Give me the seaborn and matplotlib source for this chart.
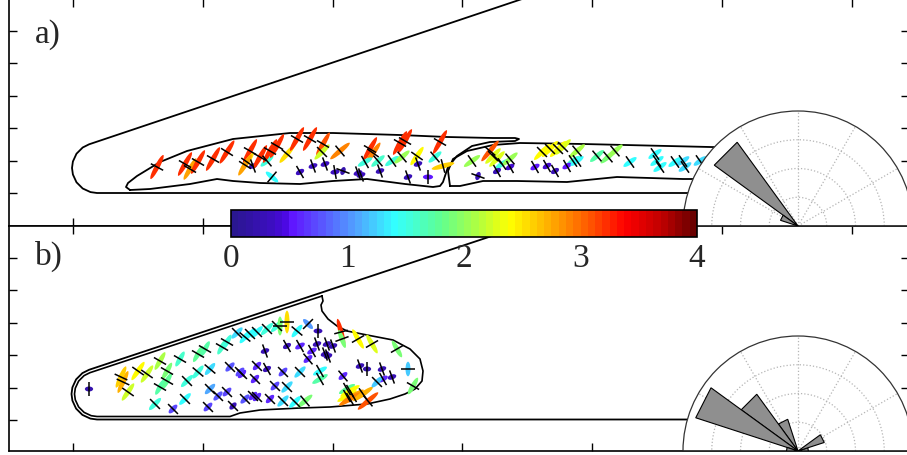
import numpy as np
import pandas as pd
import matplotlib
matplotlib.use("Agg")
import matplotlib.pyplot as plt
import seaborn as sns
from matplotlib.collections import EllipseCollection, LineCollection
from matplotlib.colors import LinearSegmentedColormap, Normalize
from matplotlib.cm import ScalarMappable
from matplotlib.ticker import FixedLocator

# ---------------- geometry (length units: 1 unit = 1/32.4 of a y-tick spacing) ----------------
wall_a_x = [522, 80.1, 73.7, 67.5, 63.9, 63, 63.9, 67.5, 73.7, 81.5, 88, 900]
wall_a_y = [230, 81.7, 78.5, 72.3, 64.5, 58, 51.5, 43.7, 37.5, 33.9, 33, 33]

body1_x = [121, 117, 119, 128, 151, 178, 224, 281, 324, 391, 438, 484, 506, 510, 506, 481, 463,
           448, 439, 434, 431, 424, 396, 358, 324, 291, 251, 224, 208, 181, 141, 121]
body1_y = [36, 39, 43, 50, 64, 75, 87, 93, 93, 91, 89, 88, 88, 87, 85, 84, 80,
           70, 59, 44, 40, 39, 42, 47, 45, 42, 43, 45, 47, 42, 37, 36]

body2_x = [441, 439, 444, 458, 484, 511, 574, 701, 760, 760, 701, 674, 608, 558, 508, 474, 451, 441]
body2_y = [40, 55, 67, 75, 81, 83, 82, 79, 78, 47, 47, 47, 49, 44, 45, 45, 40, 40]

wall_b_x = [522, 80, 73.4, 67.1, 63.4, 62.5, 63.4, 67.1, 73.4, 81.4, 88, 900]
wall_b_y = [228, 81.2, 77.9, 71.6, 63.6, 57, 50.4, 42.4, 36.1, 32.4, 31.5, 31.5]

body_b_x = [313, 314, 312, 313, 319, 328, 338, 358, 384, 401, 411, 414, 413, 406, 396, 381, 358,
            321, 291, 251, 231, 221, 88, 82.2, 75.1, 69.6, 66.3, 65.5, 66.3, 69.6, 75.1, 80.9, 313]
body_b_y = [155, 150, 146, 140, 132, 125, 120, 116, 111, 102, 92, 80, 70, 62, 57, 52, 47,
            44, 43, 41, 38, 34.5, 34.5, 35.3, 38.6, 44.1, 51.2, 57, 62.8, 69.9, 75.4, 78.3, 155]

# ---------------- panel a markers ----------------
a_x = [148, 176, 181, 189, 204, 218, 241, 238, 236, 244,
       251, 258, 261, 268, 263, 278, 288, 301, 304, 291,
       314, 313, 316, 331, 326, 334, 349, 352, 361, 364,
       356, 369, 371, 391, 396, 383, 393, 399, 408, 409,
       419, 426, 431, 434, 463, 481, 484, 488, 493, 501,
       469, 488, 501, 533, 541, 549, 554, 568, 564, 526,
       538, 546, 558, 568, 588, 599, 606, 621, 646, 648,
       651, 666, 674, 676, 691]
a_y = [59, 62, 57, 64, 67, 74, 75, 64, 61, 60,
       69, 65, 75, 80, 49, 72, 87, 87, 60, 54,
       82, 74, 62, 75, 54, 55, 53, 51, 77, 73,
       64, 65, 55, 83, 85, 65, 69, 49, 70, 62,
       49, 69, 84, 60, 65, 75, 70, 67, 62, 67,
       50, 55, 59, 74, 77, 77, 79, 75, 65, 59,
       60, 55, 60, 65, 70, 69, 75, 64, 72, 65,
       59, 64, 65, 59, 65]
a_val = [3.2, 3.2, 2.8, 3.2, 3.2, 3.2, 3.2, 2.5, 2.8, 0.3,
         3.2, 1.5, 3.2, 3.2, 1.4, 2.5, 3.2, 3.2, 0.35, 0.35,
         3.1, 2.2, 0.35, 2.9, 0.35, 0.2, 0.35, 0.35, 3.2, 2.9,
         1.5, 1.6, 0.3, 3.2, 3.2, 1.5, 2.0, 0.3, 2.4, 0.3,
         0.5, 1.5, 3.2, 2.6, 2.0, 3.1, 2.3, 2.3, 1.5, 2.0,
         0.25, 0.3, 0.4, 2.4, 2.4, 2.4, 2.3, 2.1, 1.5, 0.5,
         0.4, 0.3, 0.5, 1.4, 1.7, 1.9, 2.0, 1.4, 1.4, 1.4,
         1.4, 1.4, 1.3, 1.3, 1.3]
a_ang = [62, 60, 60, 60, 60, 58, 60, 55, 58, 20,
         60, 40, 60, 60, -40, 50, 60, 60, 20, 30,
         60, 45, 20, 40, 10, 70, 20, 20, 60, 55,
         30, 40, 20, 60, 60, 35, 40, 20, 55, 20,
         0, 40, 60, 15, 35, 50, 45, 45, 35, 40,
         70, 30, 30, 45, 45, 45, 45, 40, 35, 30,
         30, 30, 30, 35, 40, 40, 40, 35, 35, 35,
         35, 35, 35, 35, 35]

# ---------------- panel b markers ----------------
b_x = [80, 114, 112, 119, 129, 138, 151, 158, 151, 158,
       146, 164, 178, 176, 189, 196, 189, 201, 199, 213,
       218, 236, 209, 221, 233, 224, 236, 201, 228, 241,
       248, 258, 268, 278, 271, 288, 299, 309, 256, 278,
       291, 308, 318, 324, 332, 333, 349, 363, 388, 303,
       316, 299, 319, 351, 358, 373, 383, 374, 399, 404,
       248, 258, 246, 274, 291, 311, 311, 334, 266, 278,
       248, 261, 274, 286, 296, 338, 338, 341, 344, 341,
       354, 359, 368, 231, 244, 218, 171]
b_y = [62, 69, 74, 59, 80, 77, 90, 80, 64, 70,
       47, 42, 70, 52, 97, 102, 79, 62, 44, 104,
       109, 114, 55, 84, 77, 45, 52, 82, 118, 117,
       119, 122, 125, 129, 125, 120, 127, 120, 100, 105,
       105, 107, 107, 105, 119, 112, 112, 107, 102, 100,
       97, 92, 95, 85, 82, 82, 74, 72, 82, 65,
       85, 82, 72, 79, 79, 80, 72, 75, 65, 64,
       54, 52, 50, 49, 50, 62, 55, 60, 55, 52,
       57, 50, 69, 79, 55, 59, 92]
b_val = [0.2, 2.7, 2.6, 2.2, 2.4, 2.2, 2.1, 1.9, 1.7, 1.8,
         1.5, 0.7, 1.5, 1.4, 1.8, 1.7, 1.5, 1.1, 0.7, 1.6,
         1.5, 1.4, 0.8, 0.8, 0.6, 0.3, 0.8, 1.3, 1.3, 1.4,
         1.4, 1.5, 1.5, 2.5, 1.9, 1.4, 1.0, 0.3, 0.3, 0.3,
         0.6, 0.3, 0.3, 0.3, 3.2, 1.9, 2.4, 2.3, 1.9, 0.6,
         0.3, 0.6, 0.3, 0.3, 0.2, 0.3, 0.3, 0.6, 1.2, 1.9,
         0.6, 0.3, 0.6, 0.7, 1.3, 1.4, 1.7, 0.6, 0.7, 1.3,
         0.6, 0.6, 1.3, 1.4, 1.9, 1.8, 2.4, 2.4, 2.8, 2.9,
         2.7, 3.1, 1.2, 0.7, 0.6, 0.7, 1.6]
b_ang = [0, 65, 65, 55, 55, 55, 60, 60, 60, 60,
         45, 45, 45, 45, 60, 60, 50, 45, 45, 60,
         60, 50, 45, 45, 45, 45, 45, 50, 45, 45,
         45, 45, 45, 90, 90, 50, -45, 0, 20, 30,
         30, 20, 20, 20, -75, -70, -60, -60, -60, 30,
         20, 40, 20, 20, 0, 20, 20, 30, 90, 60,
         45, 30, 45, 45, 45, 30, 30, 40, 45, 45,
         45, 45, 45, 45, 40, 30, 30, 30, 30, 30,
         35, 40, 45, 45, 45, 45, 60]

# ---------------- rose diagrams (normalised counts per 18 deg bin) ----------------
rose_edges = [0, 18, 36, 54, 72, 90, 108, 126, 144, 162, 180]
rose_a = [0, 0, 0, 0, 0, 0, 0, 0.90, 0.16, 0]
rose_b = [0.09, 0.24, 0, 0, 0, 0, 0.29, 0.61, 0.935, 0.10]

cbar_ticks = [0, 1, 2, 3, 4]

# ---------------- styling ----------------
sns.set_theme(style="white")
plt.rcParams["font.family"] = ["Liberation Serif", "DejaVu Serif"]

cmap = LinearSegmentedColormap.from_list("ratio", [
    (0.00, "#2a1790"), (0.08, "#3c0ec0"), (0.11, "#4a08e0"), (0.12, "#6010ff"),
    (0.20, "#5860ff"), (0.27, "#50a8ff"), (0.35, "#33ffff"), (0.45, "#60ff90"),
    (0.53, "#b0ff40"), (0.60, "#ffff00"), (0.70, "#ffa000"), (0.78, "#ff5000"),
    (0.85, "#ff0000"), (0.93, "#c00000"), (1.00, "#6a0000")], N=64)
norm = Normalize(0, 4)

W, H = 907, 456
fig = plt.figure(figsize=(W / 100, H / 100), dpi=100)


def rect(l, t, w, h):
    return [l / W, 1 - (t + h) / H, w / W, h / H]


ax_a = fig.add_axes(rect(9, 0, 900, 227))
ax_b = fig.add_axes(rect(9, 227, 900, 225))


def setup(ax, ytop, y0):
    ax.set_xlim(0, 900)
    ax.set_ylim(0, ytop)
    ax.xaxis.set_major_locator(FixedLocator(np.arange(64.3, 900, 129.7)))
    ax.yaxis.set_major_locator(FixedLocator(np.arange(y0, ytop - 10, 32.4)))
    ax.tick_params(direction="in", length=6, width=1, color="black",
                   bottom=True, top=True, left=True, right=True,
                   labelbottom=False, labelleft=False)
    ax.set_xlabel("")
    ax.set_ylabel("")
    for s in ax.spines.values():
        s.set_color("black")
        s.set_linewidth(1.2)


def outline(ax, xs, ys, lw=1.3):
    d = pd.DataFrame({"x": xs, "y": ys})
    sns.lineplot(data=d, x="x", y="y", sort=False, estimator=None,
                 color="black", lw=lw, ax=ax, zorder=2)


def markers(ax, xs, ys, vals, angs):
    xs = np.asarray(xs, float)
    ys = np.asarray(ys, float)
    vals = np.asarray(vals, float)
    angs = np.asarray(angs, float)
    lengths = 7 + 6.3 * vals
    ec = EllipseCollection(lengths, np.full_like(lengths, 5.0), angs, units="xy",
                           offsets=np.column_stack([xs, ys]),
                           offset_transform=ax.transData,
                           facecolors=cmap(norm(vals)), edgecolors="none", zorder=3)
    ax.add_collection(ec)
    p = np.deg2rad(angs + 90)
    half = 7.0
    segs = [[(x - half * np.cos(t), y - half * np.sin(t)),
             (x + half * np.cos(t), y + half * np.sin(t))] for x, y, t in zip(xs, ys, p)]
    ax.add_collection(LineCollection(segs, colors="black", linewidths=1.1, zorder=4))


outline(ax_a, wall_a_x, wall_a_y)
outline(ax_a, body1_x, body1_y)
outline(ax_a, body2_x, body2_y)
markers(ax_a, a_x, a_y, a_val, a_ang)
setup(ax_a, 227, 33)
ax_a.text(26, 192, "a)", fontsize=24, ha="left", va="center")

outline(ax_b, wall_b_x, wall_b_y)
outline(ax_b, body_b_x, body_b_y, lw=1.2)
markers(ax_b, b_x, b_y, b_val, b_ang)
setup(ax_b, 225, 31)
ax_b.text(26, 196, "b)", fontsize=24, ha="left", va="center")


def rose(top, radii):
    pax = fig.add_axes(rect(683, top, 230, 230), projection="polar")
    pax.set_thetamin(0)
    pax.set_thetamax(180)
    pax.set_ylim(0, 1)
    pax.set_rticks([0.25, 0.5, 0.75])
    pax.set_yticklabels([])
    pax.set_thetagrids([30, 60, 90, 120, 150], labels=[""] * 5)
    pax.grid(True, color="#b5b5b5", linestyle=":", linewidth=0.9)
    pax.tick_params(length=0)
    pax.set_facecolor("white")
    pax.spines["polar"].set_color("#333333")
    pax.spines["polar"].set_linewidth(0.9)
    for k in ("start", "end", "inner"):
        pax.spines[k].set_visible(False)
    for lo, hi, r in zip(rose_edges[:-1], rose_edges[1:], radii):
        if r > 0:
            pax.fill(np.deg2rad([lo, lo, hi]), [0, r, r], facecolor="#8f8f8f",
                     edgecolor="black", linewidth=0.8, zorder=3)
    return pax


rose(54.5, rose_a)
rose(279.5, rose_b)

cax = fig.add_axes(rect(231, 211, 466, 27))
cb = fig.colorbar(ScalarMappable(norm=norm, cmap=cmap), cax=cax, orientation="horizontal")
cb.set_ticks(cbar_ticks)
cb.ax.tick_params(length=0, labelsize=24, pad=4, bottom=True)
cb.outline.set_linewidth(1.2)
cb.outline.set_edgecolor("black")

fig.savefig("out.png", dpi=100)
